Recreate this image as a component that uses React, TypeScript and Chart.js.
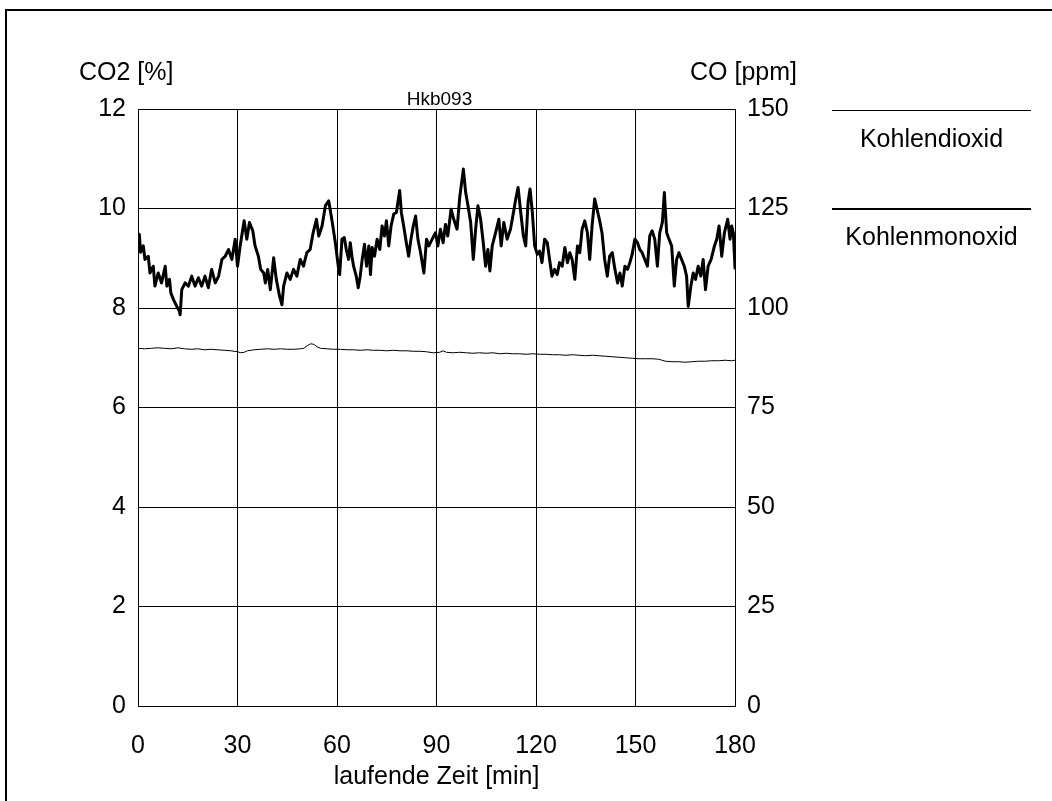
import React, { useEffect, useRef } from 'react';
import { Chart, registerables } from 'chart.js';

Chart.register(...registerables);

const chartTitle = 'Hkb093';
const xTitle = 'laufende Zeit [min]';
const leftTitle = 'CO2 [%]';
const rightTitle = 'CO [ppm]';
const seriesNames = ['Kohlendioxid', 'Kohlenmonoxid'];

const xTicks = [0, 30, 60, 90, 120, 150, 180];
const co2Ticks = [0, 2, 4, 6, 8, 10, 12];
const coTicks = [0, 25, 50, 75, 100, 125, 150];

const co2Time = [0, 2, 4, 6, 8, 10, 12, 14, 16, 18, 20, 22, 24, 26, 28, 30, 31, 32, 33, 35, 37, 39, 41, 43, 45, 47, 49, 50, 51, 52, 53, 54, 55, 57, 59, 61, 63, 65, 67, 69, 71, 73, 75, 77, 79, 81, 83, 85, 87, 89, 91, 92, 93, 95, 97, 99, 101, 103, 105, 107, 109, 111, 113, 115, 117, 119, 121, 123, 125, 127, 129, 131, 133, 135, 137, 139, 141, 143, 145, 147, 149, 151, 153, 155, 157, 158, 159, 161, 163, 165, 167, 169, 171, 173, 175, 177, 179, 180];
const co2Value = [7.19, 7.18, 7.19, 7.2, 7.19, 7.18, 7.2, 7.18, 7.17, 7.18, 7.16, 7.17, 7.16, 7.15, 7.14, 7.12, 7.1, 7.11, 7.14, 7.16, 7.17, 7.18, 7.17, 7.18, 7.17, 7.17, 7.18, 7.19, 7.24, 7.28, 7.27, 7.22, 7.19, 7.18, 7.17, 7.17, 7.16, 7.16, 7.15, 7.16, 7.15, 7.15, 7.14, 7.15, 7.14, 7.14, 7.13, 7.13, 7.12, 7.1, 7.11, 7.14, 7.11, 7.1, 7.11, 7.1, 7.09, 7.1, 7.09, 7.1, 7.08, 7.09, 7.08, 7.08, 7.07, 7.08, 7.07, 7.07, 7.06, 7.06, 7.05, 7.06, 7.05, 7.04, 7.05, 7.04, 7.03, 7.02, 7.01, 7.0, 6.99, 6.98, 6.98, 6.98, 6.97, 6.95, 6.93, 6.92, 6.92, 6.91, 6.92, 6.93, 6.93, 6.94, 6.94, 6.95, 6.94, 6.95];

const coTime = [0, 0.4, 0.8, 1.6, 2.1, 3.1, 3.6, 4.6, 5.1, 6.1, 7.1, 8.2, 8.7, 9.5, 9.9, 10.7, 11.7, 12.5, 12.7, 13.2, 14.2, 15.2, 16.2, 17.2, 18.2, 19.2, 20.2, 21.2, 22.2, 23.3, 24.3, 25.3, 26.3, 27.3, 28.3, 29.3, 30.0, 30.8, 32.0, 32.8, 33.6, 34.6, 35.3, 36.3, 37.0, 37.9, 38.4, 39.1, 39.9, 40.9, 41.7, 42.7, 43.4, 43.9, 44.9, 45.9, 46.9, 47.9, 48.9, 49.9, 50.9, 51.9, 52.8, 53.8, 54.5, 55.5, 56.5, 57.5, 58.5, 59.5, 60.5,
  60.8, 61.5, 62.2, 62.8, 63.5, 64.0, 64.5, 65.0, 65.8, 66.4, 67.0, 67.6, 68.3, 68.9, 69.6, 70.1, 70.6, 71.3, 72.1, 72.9, 73.6, 74.3, 74.9, 75.6, 76.3, 77.1, 77.9, 78.9, 79.4, 80.1, 80.9, 81.6, 82.3, 83.0, 83.7, 84.4, 85.2, 86.2, 87.0, 87.7, 88.7, 89.7, 90.4, 91.2, 92.0, 92.7, 93.4, 94.4, 95.2, 96.2, 97.0, 98.1, 98.8, 99.5, 100.3, 101.1, 101.8, 102.5, 103.3, 104.1, 104.8, 105.5, 106.1, 106.8, 107.8, 108.8, 109.5, 110.3, 111.3, 112.3, 113.2, 113.9, 114.6, 115.4, 116.2, 116.9, 117.6, 118.2, 118.9, 119.6,
  120.4, 121.1, 121.8, 122.6, 123.4, 124.1, 124.8, 125.6, 126.4, 127.1, 127.9, 128.7, 129.5, 130.2, 130.9, 131.7, 132.5, 133.2, 133.9, 134.7, 135.5, 136.2, 136.9, 137.7, 138.4, 139.1, 139.9, 140.7, 141.5, 142.2, 143.0, 143.8, 144.6, 145.3, 146.0, 146.8, 147.6, 148.3, 149.0, 149.8, 150.6, 151.3, 152.0, 152.8, 153.6, 154.3, 155.0, 155.8, 156.6, 157.3, 158.1, 158.7, 159.4, 160.1, 160.9, 161.7, 162.4, 163.1, 163.9, 164.7, 165.4, 165.9, 166.7, 167.4, 168.1, 168.9, 169.7, 170.4, 171.1, 171.9, 172.8, 173.8, 174.5, 175.2, 176.0, 176.8, 177.8, 178.5, 179.0, 179.5, 180.0];
const coValue = [115.6, 118.5, 114.0, 115.6, 112.2, 113.0, 108.8, 110.5, 105.5, 108.8, 106.3, 110.5, 105.5, 107.2, 103.8, 102.1, 100.4, 99.2, 98.3, 104.6, 106.3, 105.5, 108.0, 105.5, 107.6, 105.5, 108.0, 105.1, 109.7, 106.3, 108.0, 112.2, 113.0, 114.7, 112.2, 117.3, 110.5, 115.6, 121.9, 117.3, 121.5, 119.4, 115.6, 113.0, 109.7, 108.8, 106.3, 109.7, 104.6, 112.6, 107.2, 102.9, 100.8, 105.5, 108.8, 107.2, 109.7, 108.0, 112.2, 110.5, 113.9, 114.7, 118.9, 122.3, 118.1, 120.6, 125.7, 126.9, 121.9, 116.4, 109.7,
  108.4, 117.3, 117.7, 114.7, 112.2, 116.4, 113.0, 110.5, 108.0, 105.1, 108.0, 112.2, 116.0, 110.5, 115.6, 108.4, 115.2, 113.0, 117.3, 114.7, 120.6, 118.1, 121.9, 115.6, 120.6, 123.6, 124.0, 129.5, 124.0, 120.6, 116.4, 113.0, 117.3, 120.6, 123.1, 117.3, 113.9, 108.8, 117.3, 115.6, 117.3, 118.9, 115.6, 119.8, 116.4, 121.0, 118.1, 124.8, 122.3, 119.8, 127.8, 134.9, 129.0, 125.7, 121.5, 112.2, 119.8, 125.7, 122.3, 116.4, 110.5, 114.7, 109.3, 115.6, 118.9, 122.3, 115.6, 121.5, 117.3, 119.8, 124.0, 127.4, 130.3, 124.0, 118.1, 115.6, 126.5, 129.9, 124.0, 115.6,
  113.5, 114.3, 111.4, 117.3, 116.4, 112.2, 108.0, 109.7, 108.4, 111.4, 110.5, 115.2, 111.4, 113.9, 112.2, 107.2, 115.6, 113.9, 119.8, 121.9, 118.9, 112.2, 120.6, 127.4, 124.8, 122.3, 118.9, 112.2, 108.0, 113.0, 113.9, 109.7, 106.3, 108.8, 105.5, 110.5, 109.7, 111.4, 113.5, 117.3, 116.4, 114.7, 113.9, 112.2, 110.5, 118.1, 119.4, 117.3, 110.5, 118.9, 121.5, 129.0, 118.9, 117.3, 115.6, 105.5, 112.2, 113.9, 112.2, 110.5, 108.0, 100.4, 105.5, 108.8, 107.2, 110.5, 108.0, 112.2, 104.6, 110.5, 112.2, 115.6, 117.3, 120.6, 113.0, 118.9, 122.3, 117.3, 120.6, 118.9, 110.0];

const FONT = 'Arial, "Liberation Sans", sans-serif';
const CO2_WIDTH = 1;
const CO_WIDTH = 3;

const decorPlugin = {
  id: 'decor',
  afterDraw(chart: any) {
    const { ctx, chartArea: a } = chart;
    const cx = (a.left + a.right) / 2;
    ctx.save();
    // outer frame (left and top edges)
    ctx.strokeStyle = '#000';
    ctx.lineWidth = 2;
    ctx.beginPath();
    ctx.moveTo(6, chart.height + 2);
    ctx.lineTo(6, 10);
    ctx.lineTo(chart.width + 2, 10);
    ctx.stroke();

    ctx.fillStyle = '#000';
    ctx.textBaseline = 'middle';
    ctx.font = `25px ${FONT}`;
    ctx.textAlign = 'left';
    ctx.fillText(leftTitle, a.left - 59, a.top - 36);
    ctx.textAlign = 'right';
    ctx.fillText(rightTitle, a.right + 62, a.top - 36);
    ctx.textAlign = 'center';
    ctx.fillText(xTitle, cx, a.bottom + 71);

    ctx.font = `19px ${FONT}`;
    ctx.fillText(chartTitle, cx + 3, a.top - 9);

    // legend
    const lx0 = a.right + 97;
    const lx1 = a.right + 296;
    const lcx = (lx0 + lx1) / 2;
    const entries = [
      { name: seriesNames[0], w: CO2_WIDTH, y: a.top + 1.5 },
      { name: seriesNames[1], w: 2, y: a.top + 100 },
    ];
    ctx.font = `25px ${FONT}`;
    for (const e of entries) {
      ctx.lineWidth = e.w;
      ctx.beginPath();
      ctx.moveTo(lx0, e.y);
      ctx.lineTo(lx1, e.y);
      ctx.stroke();
      ctx.fillText(e.name, lcx, Math.round(e.y) + 29);
    }
    ctx.restore();
  },
};

export default function App() {
  const ref = useRef<HTMLCanvasElement | null>(null);

  useEffect(() => {
    if (!ref.current) return;
    const co2Data = co2Time.map((t, i) => ({ x: t, y: co2Value[i] }));
    const coData = coTime.map((t, i) => ({ x: t, y: coValue[i] }));
    const tickFont = { family: FONT, size: 25 };
    const chart = new Chart(ref.current, {
      type: 'line',
      data: {
        datasets: [
          {
            label: seriesNames[0],
            data: co2Data,
            yAxisID: 'y',
            borderColor: '#000',
            borderWidth: CO2_WIDTH,
            pointRadius: 0,
            tension: 0,
          },
          {
            label: seriesNames[1],
            data: coData,
            yAxisID: 'y1',
            borderColor: '#000',
            borderWidth: CO_WIDTH,
            borderJoinStyle: 'round',
            borderCapStyle: 'round',
            pointRadius: 0,
            tension: 0,
          },
        ],
      },
      options: {
        responsive: false,
        animation: false,
        layout: { padding: { top: 109, left: 0, right: 0, bottom: 0 } },
        plugins: { legend: { display: false }, tooltip: { enabled: false }, title: { display: false } },
        scales: {
          x: {
            type: 'linear',
            min: 0,
            max: 180,
            afterBuildTicks: (s: any) => {
              s.ticks = xTicks.map((v) => ({ value: v }));
            },
            afterFit: (s: any) => {
              s.height = 95;
            },
            grid: { color: '#000', lineWidth: 1, drawTicks: false },
            border: { display: true, color: '#000', width: 1 },
            ticks: { color: '#000', font: tickFont, padding: 25, maxRotation: 0, autoSkip: false },
          },
          y: {
            type: 'linear',
            position: 'left',
            min: 0,
            max: 12,
            afterBuildTicks: (s: any) => {
              s.ticks = co2Ticks.map((v) => ({ value: v }));
            },
            afterFit: (s: any) => {
              s.width = 138;
            },
            grid: { color: '#000', lineWidth: 1, drawTicks: false },
            border: { display: true, color: '#000', width: 1 },
            ticks: { color: '#000', font: tickFont, padding: 12, autoSkip: false },
          },
          y1: {
            type: 'linear',
            position: 'right',
            min: 0,
            max: 150,
            afterBuildTicks: (s: any) => {
              s.ticks = coTicks.map((v) => ({ value: v }));
            },
            afterFit: (s: any) => {
              s.width = 317;
            },
            grid: { drawOnChartArea: false, drawTicks: false },
            border: { display: true, color: '#000', width: 1 },
            ticks: { color: '#000', font: tickFont, padding: 12, autoSkip: false },
          },
        },
      },
      plugins: [decorPlugin],
    });
    return () => chart.destroy();
  }, []);

  return (
    <canvas
      ref={ref}
      width={1052}
      height={801}
      style={{ position: 'absolute', left: 0, top: 0, display: 'block', background: '#fff' }}
    />
  );
}
